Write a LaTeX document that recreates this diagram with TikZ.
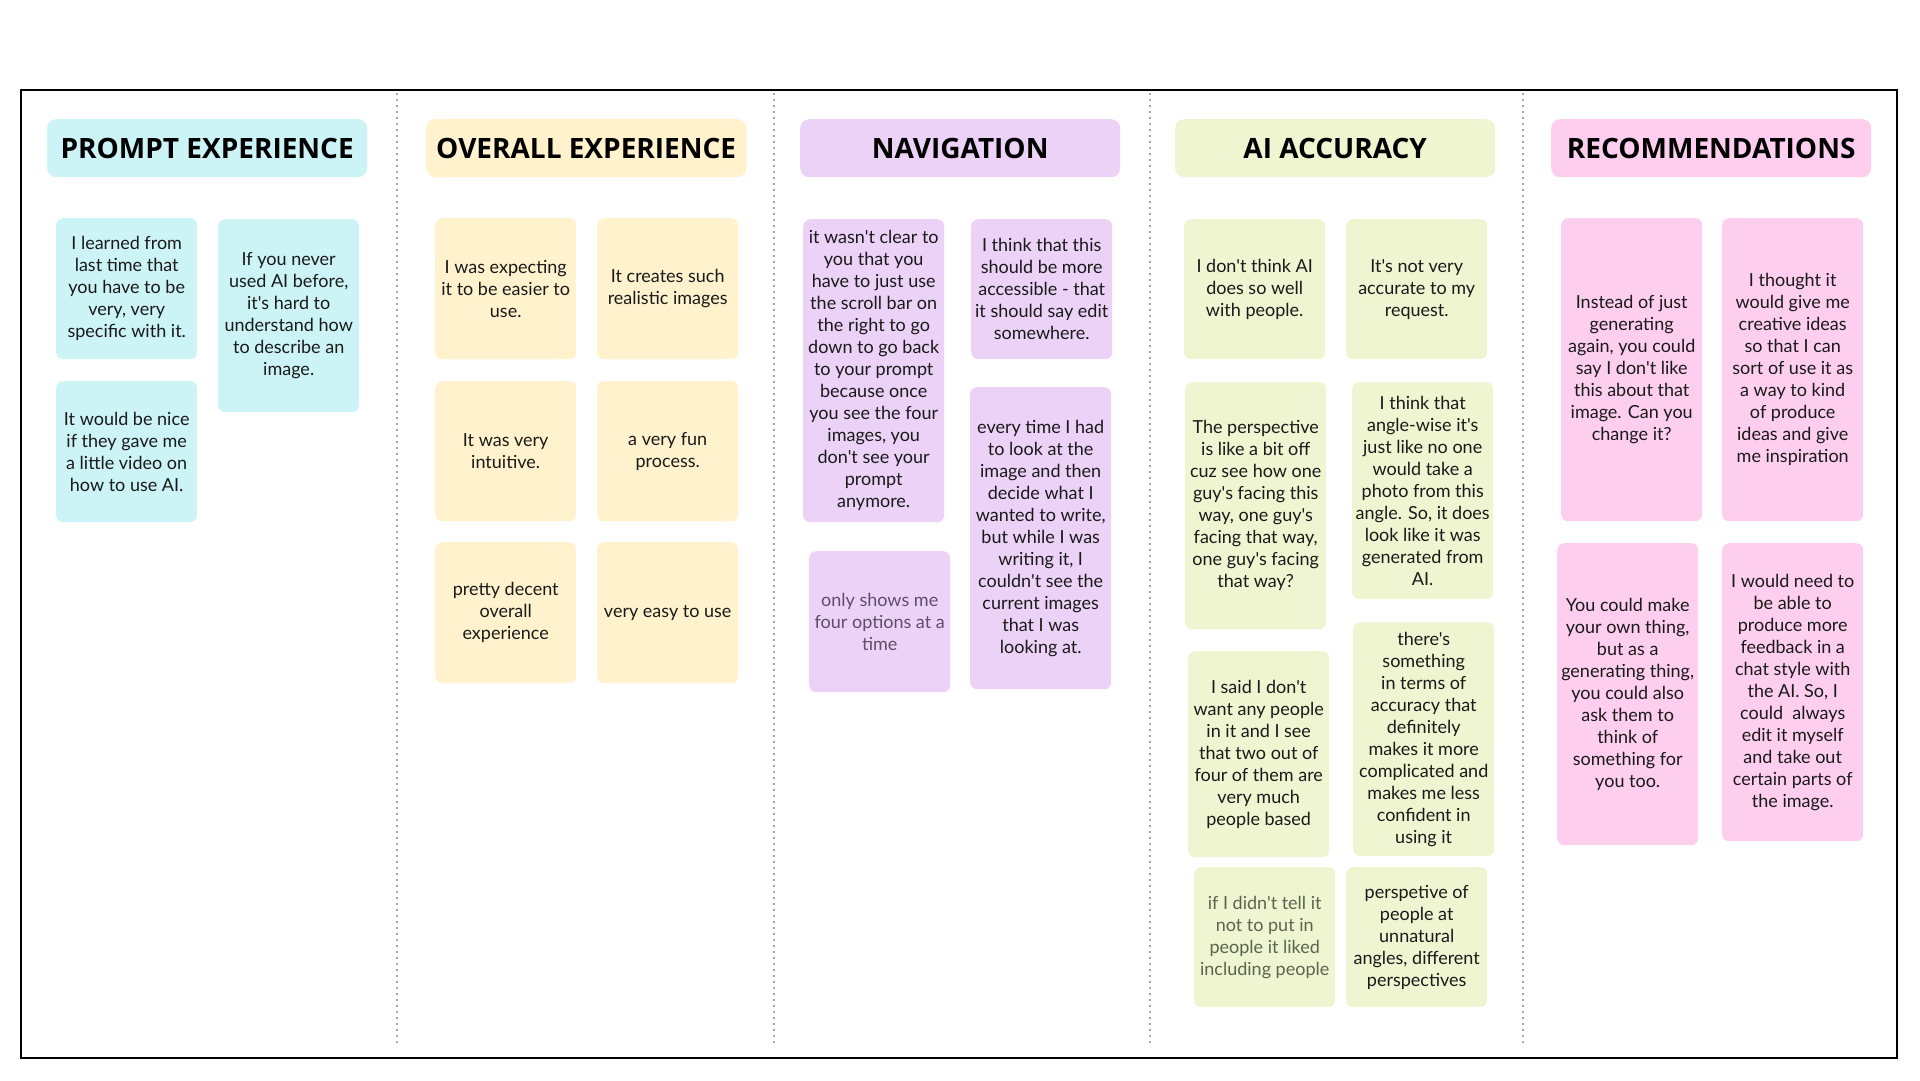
\documentclass[tikz,border=0pt]{standalone}
\usepackage{fontspec}
\usepackage{xcolor}
\setmainfont{Lato}[Ligatures=TeXOff]
\newfontfamily\headfont{Open Sans}
\definecolor{promptfill}{HTML}{CCF3F6}
\definecolor{overallfill}{HTML}{FFF2CC}
\definecolor{navfill}{HTML}{EDD2F7}
\definecolor{aifill}{HTML}{EEF5D0}
\definecolor{recfill}{HTML}{FDCEEE}
\definecolor{ink}{HTML}{1A1A1A}
\definecolor{navgray}{HTML}{5E4E6B}
\definecolor{aigray}{HTML}{5C6450}
\definecolor{dotgray}{HTML}{AAAAAA}
\newcommand{\notefont}{\fontsize{18}{22}\selectfont}

\begin{document}
\begin{tikzpicture}[x=1pt,y=-1pt,
    sticky/.style={rounded corners=7pt, anchor=north west, inner sep=0pt, align=center,
        minimum width=141pt, minimum height=141pt, text=ink, font=\notefont},
    header/.style={rounded corners=9pt, anchor=north west, inner sep=0pt,
        minimum width=320pt, minimum height=58pt, font=\headfont\bfseries\fontsize{28}{30}\selectfont},
    divider/.style={dotgray, line width=2pt, dash pattern=on 2pt off 4pt}]
    \useasboundingbox (0,0) rectangle (1920,1080);
    \draw[line width=2.2pt] (21,90) rectangle (1897,1058);
    \foreach \x in {397,774,1150,1523}
        \draw[divider] (\x,93) -- (\x,1047);
    % column headers
    \node[header, fill=promptfill]  (prompt)  at (47,119)   {PROMPT EXPERIENCE};
    \node[header, fill=overallfill] (overall) at (426,119)  {OVERALL EXPERIENCE};
    \node[header, fill=navfill]     (nav)     at (800,119)  {NAVIGATION};
    \node[header, fill=aifill]      (acc)     at (1175,119) {AI ACCURACY};
    \node[header, fill=recfill]     (rec)     at (1551,119) {RECOMMENDATIONS};
    % prompt experience
    \node[sticky, fill=promptfill] (learned) at (56,218) {I learned from\\last time that\\you have to be\\very, very\\specific with it.};
    \node[sticky, fill=promptfill, minimum height=193pt] (never) at (218,219) {If you never\\used AI before,\\it's hard to\\understand how\\to describe an\\image.};
    \node[sticky, fill=promptfill] (video) at (56,381) {It would be nice\\if they gave me\\a little video on\\how to use AI.};
    % overall experience
    \node[sticky, fill=overallfill] (easier) at (435,218) {I was expecting\\it to be easier to\\use.};
    \node[sticky, fill=overallfill] (realistic) at (597,218) {It creates such\\realistic images};
    \node[sticky, fill=overallfill, minimum height=140pt] (intuitive) at (435,381) {It was very\\intuitive.};
    \node[sticky, fill=overallfill, minimum height=140pt] (fun) at (597,381) {a very fun\\process.};
    \node[sticky, fill=overallfill] (decent) at (435,542) {pretty decent\\overall\\experience};
    \node[sticky, fill=overallfill] (easy) at (597,542) {very easy to use};
    % navigation
    \node[sticky, fill=navfill, minimum height=303pt] (scroll) at (803,219) {it wasn't clear to\\you that you\\have to just use\\the scroll bar on\\the right to go\\down to go back\\to your prompt\\because once\\you see the four\\images, you\\don't see your\\prompt\\anymore.};
    \node[sticky, fill=navfill, minimum height=140pt] (edit) at (971,219) {I think that this\\should be more\\accessible - that\\it should say edit\\somewhere.};
    \node[sticky, fill=navfill, text=navgray] (options) at (809,551) {only shows me\\four options at a\\time};
    \node[sticky, fill=navfill, minimum height=302pt] (writing) at (970,387) {every time I had\\to look at the\\image and then\\decide what I\\wanted to write,\\but while I was\\writing it, I\\couldn't see the\\current images\\that I was\\looking at.};
    % ai accuracy
    \node[sticky, fill=aifill, minimum height=140pt] (people) at (1184,219) {I don't think AI\\does so well\\with people.};
    \node[sticky, fill=aifill, minimum height=140pt] (request) at (1346,219) {It's not very\\accurate to my\\request.};
    \node[sticky, fill=aifill, minimum height=247pt] (perspective) at (1185,382) {The perspective\\is like a bit off\\cuz see how one\\guy's facing this\\way, one guy's\\facing that way,\\one guy's facing\\that way?};
    \node[sticky, fill=aifill, minimum height=217pt] (angle) at (1352,382) {I think that\\angle-wise it's\\just like no one\\would take a\\photo from this\\angle. So, it does\\look like it was\\generated from\\AI.};
    \node[sticky, fill=aifill, minimum height=206pt] (nopeople) at (1188,651) {I said I don't\\want any people\\in it and I see\\that two out of\\four of them are\\very much\\people based};
    \node[sticky, fill=aifill, minimum height=234pt] (confident) at (1353,622) {there's\\something\\in terms of\\accuracy that\\definitely\\makes it more\\complicated and\\makes me less\\confident in\\using it};
    \node[sticky, fill=aifill, minimum height=140pt, text=aigray] (liked) at (1194,867) {if I didn't tell it\\not to put in\\people it liked\\including people};
    \node[sticky, fill=aifill, minimum height=140pt] (angles) at (1346,867) {perspetive of\\people at\\unnatural\\angles, different\\perspectives};
    % recommendations
    \node[sticky, fill=recfill, minimum height=303pt] (instead) at (1561,218) {Instead of just\\generating\\again, you could\\say I don't like\\this about that\\image. Can you\\change it?};
    \node[sticky, fill=recfill, minimum height=303pt] (ideas) at (1722,218) {I thought it\\would give me\\creative ideas\\so that I can\\sort of use it as\\a way to kind\\of produce\\ideas and give\\me inspiration};
    \node[sticky, fill=recfill, minimum height=302pt] (ownthing) at (1557,543) {You could make\\your own thing,\\but as a\\generating thing,\\you could also\\ask them to\\think of\\something for\\you too.};
    \node[sticky, fill=recfill, minimum height=298pt] (feedback) at (1722,543) {I would need to\\be able to\\produce more\\feedback in a\\chat style with\\the AI. So, I\\could\ \ always\\edit it myself\\and take out\\certain parts of\\the image.};
\end{tikzpicture}
\end{document}
